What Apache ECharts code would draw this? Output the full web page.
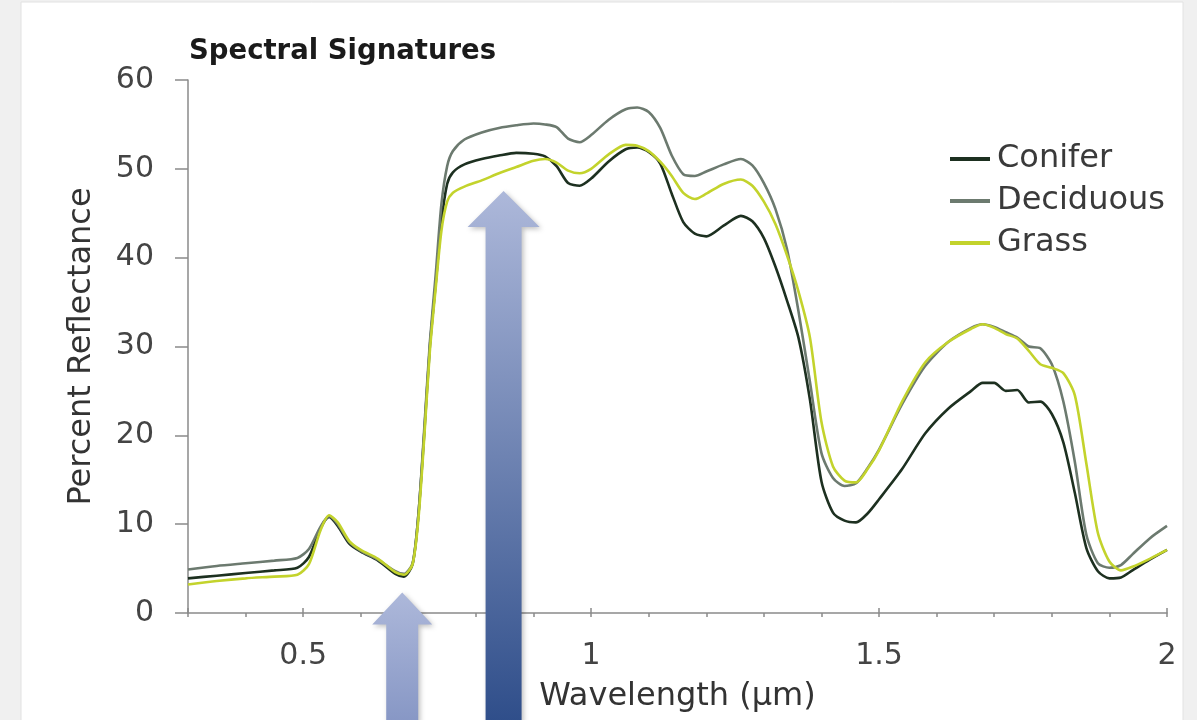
<!DOCTYPE html>
<html>
<head>
	<meta charset="utf-8"/>
	<title>Spectral Signatures</title>
	<style>
		* {
			margin: 0;
			padding: 0;
		}
		html, body {
			background: #f0f0f0;
		}
		.main {
			width: 1197px;
			height: 720px;
		}
	</style>
</head>
<body>

	<div id="main" class="main"></div>

	<script src="https://cdn.jsdelivr.net/npm/echarts@6/dist/echarts.min.js"></script>
	<script>
		// wavelength in µm, reflectance in percent
		var wavelengths = [0.30, 0.35, 0.40, 0.45, 0.49, 0.51, 0.53, 0.545, 0.56, 0.58,
			0.60, 0.63, 0.66, 0.675, 0.69, 0.70, 0.71, 0.72, 0.73, 0.74,
			0.75, 0.76, 0.78, 0.81, 0.84, 0.87, 0.90, 0.92, 0.94, 0.96,
			0.98, 1.00, 1.03, 1.06, 1.08, 1.10, 1.12, 1.14, 1.16, 1.18,
			1.20, 1.23, 1.26, 1.28, 1.30, 1.32, 1.34, 1.36, 1.38, 1.40,
			1.42, 1.44, 1.46, 1.48, 1.50, 1.54, 1.58, 1.62, 1.66, 1.68,
			1.70, 1.72, 1.74, 1.76, 1.78, 1.80, 1.82, 1.84, 1.86, 1.88,
			1.90, 1.92, 1.94, 1.97, 2.00];

		var conifer = [3.9, 4.2, 4.5, 4.8, 5.1, 6.3, 9.5, 10.8, 9.8, 7.8,
			6.9, 5.9, 4.4, 4.1, 5.5, 11, 20, 30, 37, 44,
			48.3, 49.6, 50.5, 51.1, 51.5, 51.8, 51.7, 51.4, 50.3, 48.4,
			48.1, 48.9, 50.8, 52.2, 52.4, 51.9, 50.6, 47.2, 44.0, 42.7,
			42.4, 43.6, 44.7, 44.1, 42.2, 39, 35.2, 31, 24, 14.8,
			11.3, 10.4, 10.2, 11.2, 12.8, 16.2, 20.2, 23, 25, 25.9,
			25.9, 25, 25.1, 23.7, 23.8, 22.4, 19.2, 13.5, 7.3, 4.7,
			3.9, 4.0, 4.8, 6.0, 7.1];

		var deciduous = [4.9, 5.3, 5.6, 5.9, 6.2, 7.2, 9.7, 10.9, 10.0, 8.0,
			7.0, 6.0, 4.7, 4.4, 5.6, 11, 20.5, 30.5, 38, 46,
			50.3, 52.0, 53.3, 54.1, 54.6, 54.9, 55.1, 55.0, 54.7, 53.4,
			53.0, 53.8, 55.5, 56.7, 56.9, 56.4, 54.6, 51.5, 49.4, 49.2,
			49.7, 50.5, 51.1, 50.4, 48.4, 45.5, 41, 34, 26, 18,
			15.2, 14.3, 14.6, 16.3, 18.4, 23.5, 27.8, 30.5, 32.1, 32.5,
			32.2, 31.6, 31.0, 30.0, 29.8, 28.0, 23.8, 17, 8.8, 5.6,
			5.1, 5.4, 6.6, 8.4, 9.8];

		var grass = [3.2, 3.6, 3.9, 4.1, 4.3, 5.5, 9.3, 11.0, 10.2, 8.1,
			7.1, 6.1, 4.6, 4.3, 5.5, 10.5, 19.5, 29.5, 36.5, 43,
			46.3, 47.3, 48.0, 48.7, 49.5, 50.2, 50.9, 51.1, 50.7, 49.8,
			49.5, 50.0, 51.6, 52.7, 52.6, 52.0, 50.8, 49.2, 47.3, 46.6,
			47.2, 48.3, 48.8, 48.1, 46.3, 43.8, 40.3, 36.2, 31, 21.5,
			16.5, 14.9, 14.7, 16.2, 18.3, 23.8, 28.2, 30.5, 32.0, 32.5,
			32.1, 31.4, 30.9, 29.5, 28.0, 27.6, 27.0, 24.5, 16.8, 9.0,
			5.8, 4.8, 5.2, 6.1, 7.1];

		var xLabelValues = [0.5, 1, 1.5, 2];
		var xMajorTicks = [0.3, 0.5, 1, 1.5, 2];

		// the two highlight arrows point at these spots (µm, %)
		var arrowTips = [[0.672, 2.3], [0.848, 47.5]];

		var FONT = 'DejaVu Sans';

		function pairs(vals) {
			return wavelengths.map(function (w, i) {
				return [w, vals[i]];
			});
		}

		function lineSeries(name, vals, color) {
			return {
				name: name,
				type: 'line',
				data: pairs(vals),
				smooth: 0.25,
				showSymbol: false,
				lineStyle: { color: color, width: 2.6 },
				itemStyle: { color: color }
			};
		}

		var myChart = echarts.init(document.getElementById('main'));

		var option = {
			backgroundColor: '#f0f0f0',
			animation: false,
			title: {
				text: 'Spectral Signatures',
				left: 189,
				top: 38,
				padding: 0,
				textStyle: { fontFamily: FONT, fontSize: 27.5, fontWeight: 'bold', color: '#1a1a1a' }
			},
			legend: {
				orient: 'vertical',
				left: 945,
				top: 138,
				icon: 'rect',
				itemWidth: 40,
				itemHeight: 4,
				itemGap: 10,
				textStyle: { fontFamily: FONT, fontSize: 32, color: '#3a3a3a', padding: [0, 0, 0, 2] },
				data: ['Conifer', 'Deciduous', 'Grass']
			},
			grid: {
				left: 188,
				right: 30,
				top: 80,
				bottom: 107,
				containLabel: false
			},
			xAxis: [{
				type: 'value',
				min: 0.3,
				max: 2,
				interval: 0.1,
				name: 'Wavelength (µm)',
				nameLocation: 'middle',
				nameGap: 68,
				nameTextStyle: { fontFamily: FONT, fontSize: 32, color: '#333' },
				axisLine: { onZero: false, lineStyle: { color: '#8a8a8a', width: 1.5 } },
				axisTick: { length: 4, lineStyle: { color: '#8a8a8a', width: 1.5 } },
				axisLabel: {
					customValues: xLabelValues,
					margin: 28,
					fontFamily: FONT,
					fontSize: 30,
					color: '#444'
				},
				splitLine: { show: false }
			}, {
				// second pass over the same scale: taller marks at the labelled values
				type: 'value',
				min: 0.3,
				max: 2,
				position: 'bottom',
				axisLine: { show: false },
				axisTick: {
					inside: true,
					length: 5,
					customValues: xMajorTicks,
					lineStyle: { color: '#8a8a8a', width: 1.5 }
				},
				axisLabel: { show: false },
				splitLine: { show: false }
			}],
			yAxis: {
				type: 'value',
				min: 0,
				max: 60,
				interval: 10,
				name: 'Percent Reflectance',
				nameLocation: 'middle',
				nameGap: 90,
				nameTextStyle: { fontFamily: FONT, fontSize: 32, color: '#333' },
				axisLine: { show: true, lineStyle: { color: '#8a8a8a', width: 1.5 } },
				axisTick: { show: true, length: 13, lineStyle: { color: '#8a8a8a', width: 1.5 } },
				axisLabel: { margin: 34, fontFamily: FONT, fontSize: 30, color: '#444' },
				splitLine: { show: false }
			},
			series: [
				lineSeries('Conifer', conifer, '#1d3020'),
				lineSeries('Deciduous', deciduous, '#6c7a6f'),
				lineSeries('Grass', grass, '#c3d32c')
			]
		};

		myChart.setOption(option);

		function arrow(tip, headHalf, headLen, shaftHalf, bottomColor) {
			var p = myChart.convertToPixel({ gridIndex: 0 }, tip);
			var tx = p[0], ty = p[1], bottom = 722;
			return {
				type: 'polygon',
				z: 100,
				silent: true,
				shape: {
					points: [
						[tx, ty],
						[tx + headHalf, ty + headLen],
						[tx + shaftHalf, ty + headLen],
						[tx + shaftHalf, bottom],
						[tx - shaftHalf, bottom],
						[tx - shaftHalf, ty + headLen],
						[tx - headHalf, ty + headLen]
					]
				},
				style: {
					fill: new echarts.graphic.LinearGradient(0, 0, 0, 1, [
						{ offset: 0, color: '#adb8da' },
						{ offset: 1, color: bottomColor }
					]),
					shadowBlur: 5,
					shadowOffsetX: 2,
					shadowOffsetY: 2,
					shadowColor: 'rgba(0,0,0,0.25)'
				}
			};
		}

		myChart.setOption({
			graphic: [{
				// white slide panel behind the chart
				type: 'rect',
				z: -10,
				silent: true,
				shape: { x: 21, y: 2, width: 1162, height: 720 },
				style: { fill: '#ffffff', stroke: '#e2e2e2', lineWidth: 1 }
			},
				arrow(arrowTips[0], 30, 32, 16, '#8797c5'),
				arrow(arrowTips[1], 36, 36, 18, '#2f4e8a')
			]
		});
	</script>
</body>
</html>
